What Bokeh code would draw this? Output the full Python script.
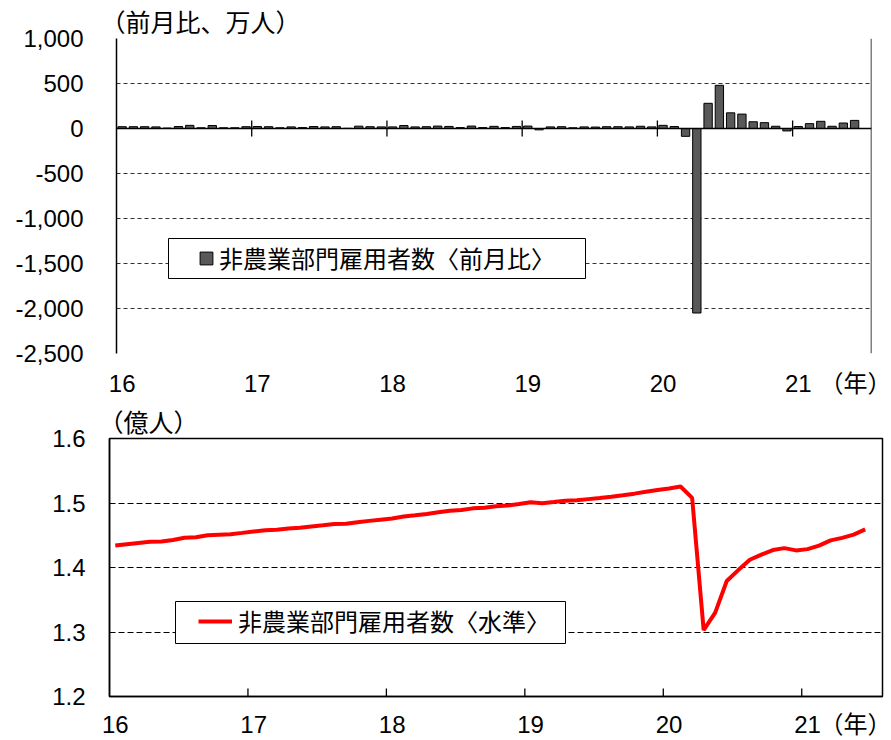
import numpy as np
from bokeh.plotting import figure
from bokeh.models import (FixedTicker, NumeralTickFormatter, Span, Legend,
                          LegendItem, BoxAnnotation, Range1d, Title)
from bokeh.embed import file_html
from bokeh.resources import INLINE

# ---------------- data ----------------
year_labels = ["16", "17", "18", "19", "20", "21"]
year_unit = "（年）"
n_slots = 67  # Jan 2016 .. Jul 2021 on the category axis

# 非農業部門雇用者数 前月比 (万人), Jan 2016 .. Jun 2021
change = [
    20, 20, 20, 18, 5, 22, 35, 8, 33, 8, 8, 20,          # 2016
    22, 20, 8, 18, 10, 22, 18, 20, 2, 26, 20, 18,        # 2017
    18, 33, 18, 20, 27, 23, 10, 27, 10, 24, 10, 23,      # 2018
    27, -15, 18, 20, 8, 18, 16, 20, 20, 18, 25, 18,      # 2019
    35, 22, -87, -2050, 280, 480, 174, 160, 75, 65, 25, -27,  # 2020
    22, 54, 80, 25, 61, 90,                              # 2021
]

# 非農業部門雇用者数 水準 (億人), Jan 2016 .. Jun 2021
level = [
    1.4340, 1.4360, 1.4380, 1.4398, 1.4403, 1.4425, 1.4460, 1.4468, 1.4501, 1.4509, 1.4517, 1.4537,
    1.4559, 1.4579, 1.4587, 1.4605, 1.4615, 1.4637, 1.4655, 1.4675, 1.4677, 1.4703, 1.4723, 1.4741,
    1.4759, 1.4792, 1.4810, 1.4830, 1.4857, 1.4880, 1.4890, 1.4917, 1.4927, 1.4951, 1.4961, 1.4984,
    1.5011, 1.4996, 1.5014, 1.5034, 1.5042, 1.5060, 1.5076, 1.5096, 1.5120, 1.5145, 1.5175, 1.5200,
    1.5225, 1.5255, 1.5080, 1.3030, 1.3300, 1.3790, 1.3960, 1.4120, 1.4200, 1.4270, 1.4300, 1.4265,
    1.4285, 1.4340, 1.4420, 1.4460, 1.4510, 1.4590,
]

top_ticks = [1000, 500, 0, -500, -1000, -1500, -2000, -2500]
bottom_ticks = [1.2, 1.3, 1.4, 1.5, 1.6]

legend_top = "非農業部門雇用者数〈前月比〉"
legend_bottom = "非農業部門雇用者数〈水準〉"
unit_top = "（前月比、万人）"
unit_bottom = "（億人）"

# --------------- helpers ---------------
NUM_FONT = "Liberation Sans, Noto Sans CJK JP"
CJK_FONT = "Noto Sans CJK JP"
FS = "24px"

x_bar = list(range(len(change)))
x_line = list(range(len(level)))
year_pos = [12 * i for i in range(len(year_labels))]
year_bounds = [12 * i - 0.5 for i in range(1, len(year_labels))]


def style_axes(p):
    for ax in (p.xaxis[0], p.yaxis[0]):
        ax.major_label_text_font = NUM_FONT
        ax.major_label_text_font_size = FS
        ax.major_label_text_color = "black"
        ax.minor_tick_line_color = None
        ax.major_tick_line_color = None
        ax.major_tick_in = 0
        ax.major_tick_out = 0


# =============== top panel ===============
p1 = figure(width=891, height=400, output_backend="svg", toolbar_location=None,
            x_range=Range1d(-0.5, n_slots - 0.5), y_range=Range1d(-2500, 1000),
            min_border_left=116, min_border_right=20, min_border_top=37,
            min_border_bottom=47)
p1.outline_line_color = None

bars = p1.vbar(x=x_bar, top=change, width=0.74, fill_color="#595959",
               line_color="black", line_width=1)

p1.xgrid.visible = False
p1.ygrid.ticker = FixedTicker(ticks=top_ticks)
p1.ygrid.grid_line_color = "#333333"
p1.ygrid.grid_line_dash = "4 3"
p1.ygrid.grid_line_width = 1

style_axes(p1)
p1.yaxis.ticker = FixedTicker(ticks=top_ticks)
p1.yaxis.formatter = NumeralTickFormatter(format="0,0")
p1.yaxis.axis_line_color = "black"
p1.yaxis.axis_line_width = 1.5
p1.yaxis.major_label_standoff = 33
unit_pos_top = 65.3
p1.xaxis.ticker = FixedTicker(ticks=year_pos + [unit_pos_top])
ov1 = {p: l for p, l in zip(year_pos, year_labels)}
ov1[unit_pos_top] = year_unit
p1.xaxis.major_label_overrides = ov1
p1.xaxis.axis_line_color = None
p1.xaxis.major_label_standoff = 16

p1.add_layout(Span(location=0, dimension="width", line_color="black", line_width=1.5))
p1.add_layout(Span(location=n_slots - 0.5, dimension="height", line_color="black",
                   line_width=1.5))
p1.scatter(x=year_bounds, y=[0] * len(year_bounds), marker="dash", size=16,
           angle=np.pi / 2, line_color="black", line_width=1.3)

p1.add_layout(BoxAnnotation(left=52, right=469, top=115, bottom=75,
                            left_units="screen", right_units="screen",
                            top_units="screen", bottom_units="screen",
                            fill_color="white", fill_alpha=1,
                            line_color="black", line_width=1, line_alpha=1))
leg1 = Legend(items=[LegendItem(label=legend_top, renderers=[bars])],
              location=(82, 78), glyph_width=16, glyph_height=16, label_standoff=5,
              padding=0, margin=0, border_line_color=None, background_fill_alpha=0,
              label_text_font=CJK_FONT, label_text_font_size=FS,
              label_text_color="black")
p1.add_layout(leg1)

p1.add_layout(Title(text=unit_top, align="left", offset=-16, standoff=0,
                    text_font=CJK_FONT, text_font_size="25px",
                    text_font_style="normal", text_color="black"), "above")

# =============== bottom panel ===============
p2 = figure(width=891, height=340, output_backend="svg", toolbar_location=None,
            x_range=Range1d(-0.5, n_slots - 0.5), y_range=Range1d(1.2, 1.6),
            min_border_left=109, min_border_right=9, min_border_top=37,
            min_border_bottom=42)
p2.outline_line_color = "black"
p2.outline_line_width = 1.5
p2.outline_line_alpha = 1

p2.xgrid.visible = False
p2.ygrid.ticker = FixedTicker(ticks=[1.3, 1.4, 1.5])
p2.ygrid.grid_line_color = "black"
p2.ygrid.grid_line_dash = "6 3"
p2.ygrid.grid_line_width = 1

style_axes(p2)
p2.yaxis.ticker = FixedTicker(ticks=bottom_ticks)
p2.yaxis.formatter = NumeralTickFormatter(format="0.0")
p2.yaxis.axis_line_color = "black"
p2.yaxis.axis_line_width = 1.5
p2.yaxis.major_label_standoff = 24
unit_pos_bottom = 64.3
p2.xaxis.ticker = FixedTicker(ticks=year_pos + [unit_pos_bottom])
ov2 = {p: l for p, l in zip(year_pos, year_labels)}
ov2[unit_pos_bottom] = year_unit
p2.xaxis.major_label_overrides = ov2
p2.xaxis.axis_line_color = "black"
p2.xaxis.axis_line_width = 1.5
p2.xaxis.major_label_standoff = 14

p2.scatter(x=year_bounds, y=[1.2] * len(year_bounds), marker="dash", size=16,
           angle=np.pi / 2, line_color="black", line_width=1.3)

ln = p2.line(x=x_line, y=level, line_color="#ff0000", line_width=4)

p2.add_layout(BoxAnnotation(left=66, right=456, top=95, bottom=53,
                            left_units="screen", right_units="screen",
                            top_units="screen", bottom_units="screen",
                            fill_color="white", fill_alpha=1,
                            line_color="black", line_width=1, line_alpha=1))
leg2 = Legend(items=[LegendItem(label=legend_bottom, renderers=[ln])],
              location=(89, 58), glyph_width=34, glyph_height=16, label_standoff=6,
              padding=0, margin=0, border_line_color=None, background_fill_alpha=0,
              label_text_font=CJK_FONT, label_text_font_size=FS,
              label_text_color="black")
p2.add_layout(leg2)

p2.add_layout(Title(text=unit_bottom, align="left", offset=-11, standoff=0,
                    text_font=CJK_FONT, text_font_size="25px",
                    text_font_style="normal", text_color="black"), "above")

open("out.html", "w").write(file_html([p1, p2], INLINE, title="chart"))
